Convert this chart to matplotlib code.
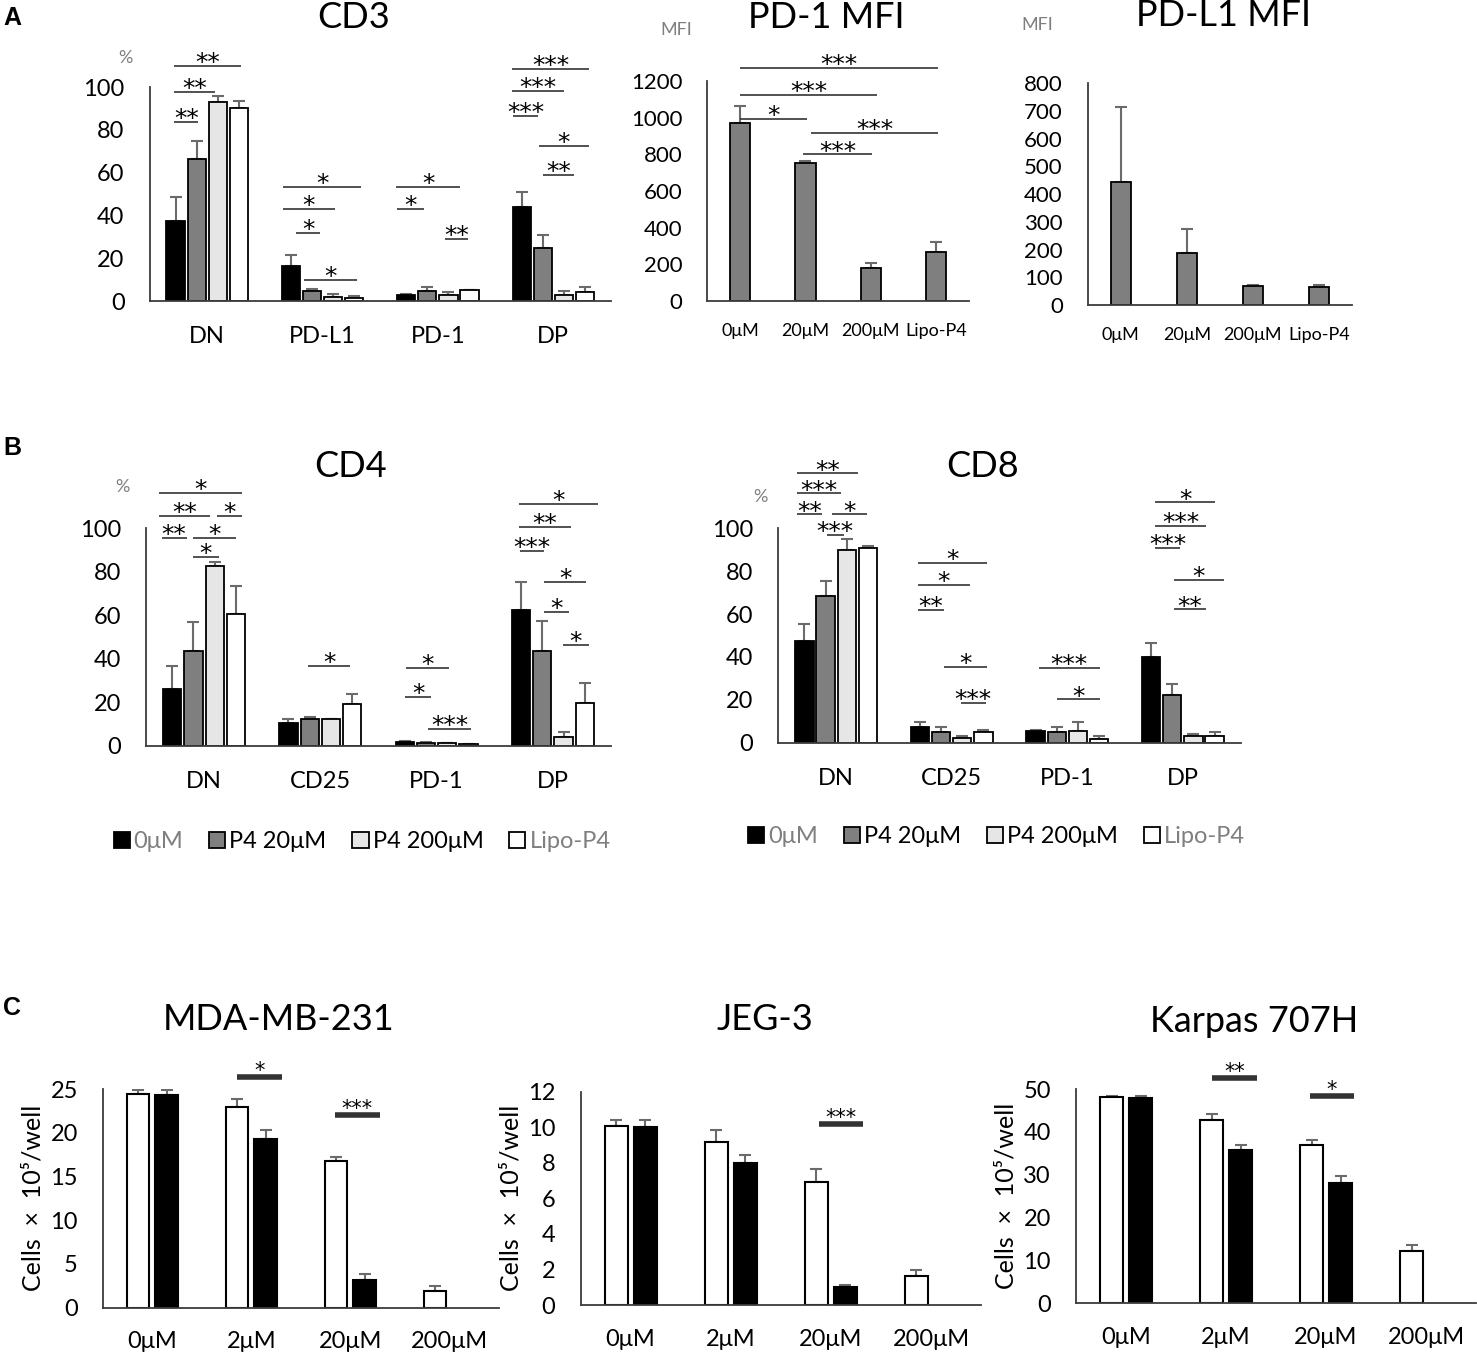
import numpy as np
import matplotlib.pyplot as plt
from matplotlib.patches import Patch

plt.rcParams['font.family'] = ['Lato', 'DejaVu Sans']

W, H = 1477, 1356

# ---------------- data ----------------
series_names = ['0μM', 'P4 20μM', 'P4 200μM', 'Lipo-P4']
legend_text_colors = ['#7f7f7f', 'black', 'black', '#7f7f7f']
bar_colors = ['black', '#7f7f7f', '#e6e6e6', 'white']

cd3_groups = ['DN', 'PD-L1', 'PD-1', 'DP']
cd3_0 = [37.5, 16.5, 3.0, 44.0]
cd3_20 = [66.5, 4.7, 4.7, 25.0]
cd3_200 = [93.0, 2.0, 3.0, 3.0]
cd3_lipo = [90.3, 1.5, 5.0, 4.0]
cd3_0_err = [11.0, 5.0, 0.5, 6.8]
cd3_20_err = [8.5, 0.9, 1.7, 6.0]
cd3_200_err = [3.0, 1.4, 1.0, 1.7]
cd3_lipo_err = [3.2, 1.0, 0.3, 2.4]
# (group, from bar, to bar, y, stars)
cd3_sig = [(0, -0.05, 3.08, 109.7, '**'), (0, -0.05, 1.86, 97.7, '**'), (0, -0.05, 1.08, 83.6, '**'),
           (1, -0.38, 3.34, 53.4, '*'), (1, -0.38, 2.07, 43.0, '*'), (1, 0.23, 1.4, 31.8, '*'),
           (1, 0.62, 3.12, 9.8, '*'),
           (2, -0.5, 2.56, 53.4, '*'), (2, -0.44, 0.83, 43.0, '*'), (2, 1.83, 2.94, 29.0, '**'),
           (3, -0.44, 3.17, 108.4, '***'), (3, -0.44, 2.0, 98.1, '***'), (3, -0.39, 0.78, 86.4, '***'),
           (3, 0.83, 3.17, 72.6, '*'), (3, 1.0, 2.5, 58.9, '**')]

mfi_groups = ['0μM', '20μM', '200μM', 'Lipo-P4']
pd1_mfi = [972, 751, 182, 266]
pd1_mfi_err = [92, 13, 23, 56]
pd1_sig = [(0, 3.02, 1273, '***'), (0, 2.09, 1122, '***'), (0, 1.02, 993, '*'),
           (1.08, 3.03, 915, '***'), (0.97, 2.01, 800, '***')]
pdl1_mfi = [445, 187, 70, 64]
pdl1_mfi_err = [271, 86, 2, 8]

cd4_groups = ['DN', 'CD25', 'PD-1', 'DP']
cd4_0 = [26.0, 10.4, 2.0, 62.5]
cd4_20 = [43.6, 12.3, 1.5, 43.6]
cd4_200 = [82.7, 12.4, 1.2, 4.3]
cd4_lipo = [60.5, 19.3, 1.0, 19.9]
cd4_0_err = [10.9, 2.0, 0.3, 13.0]
cd4_20_err = [13.2, 0.9, 0.2, 13.8]
cd4_200_err = [2.0, 0.2, 0.1, 2.3]
cd4_lipo_err = [13.1, 4.6, 0.1, 8.9]
cd4_sig = [(0, -0.63, 3.29, 116.1, '*'), (0, -0.63, 1.78, 105.6, '**'), (0, 2.09, 3.29, 105.6, '*'),
           (0, -0.5, 0.68, 95.4, '**'), (0, 0.99, 3.0, 95.4, '*'), (0, 0.97, 2.2, 87.0, '*'),
           (1, 0.92, 2.9, 36.9, '*'),
           (2, 0.05, 2.07, 35.7, '*'), (2, 0.01, 1.24, 22.4, '*'), (2, 1.1, 3.1, 7.7, '***'),
           (3, -0.09, 3.61, 111.2, '*'), (3, -0.09, 2.36, 100.5, '**'), (3, -0.05, 1.07, 89.7, '***'),
           (3, 1.1, 3.07, 75.5, '*'), (3, 1.1, 2.26, 61.7, '*'), (3, 1.97, 3.2, 46.4, '*')]

cd8_groups = ['DN', 'CD25', 'PD-1', 'DP']
cd8_0 = [47.6, 7.5, 5.6, 40.1]
cd8_20 = [68.6, 5.1, 5.1, 22.2]
cd8_200 = [89.9, 2.3, 5.4, 3.1]
cd8_lipo = [91.0, 4.8, 1.6, 3.3]
cd8_0_err = [7.6, 2.3, 0.4, 6.3]
cd8_20_err = [7.0, 2.4, 2.1, 5.0]
cd8_200_err = [5.0, 0.8, 4.1, 1.0]
cd8_lipo_err = [0.9, 1.1, 1.7, 1.5]
cd8_sig = [(0, -0.35, 2.54, 125.6, '**'), (0, -0.35, 1.71, 116.3, '***'), (0, -0.35, 0.83, 106.5, '**'),
           (0, 1.31, 2.94, 106.5, '*'), (0, 1.06, 1.86, 96.9, '***'),
           (1, -0.11, 3.15, 83.7, '*'), (1, -0.11, 2.35, 73.6, '*'), (1, -0.11, 1.13, 61.9, '**'),
           (1, 1.14, 3.15, 35.4, '*'), (1, 1.92, 3.11, 18.7, '***'),
           (2, 0.14, 3.03, 35.0, '***'), (2, 1.0, 3.03, 20.2, '*'),
           (3, 0.19, 3.03, 112.1, '*'), (3, 0.19, 2.61, 101.2, '***'), (3, 0.19, 1.37, 90.7, '***'),
           (3, 1.06, 3.46, 75.9, '*'), (3, 1.06, 2.59, 62.2, '**')]

dose_groups = ['0μM', '2μM', '20μM', '200μM']
mda_white = [24.4, 22.9, 16.8, 1.9]
mda_white_err = [0.5, 1.0, 0.4, 0.6]
mda_black = [24.3, 19.3, 3.2, np.nan]
mda_black_err = [0.6, 1.0, 0.6, np.nan]
mda_sig = [(1, -0.147, 0.306, 26.4, '*'), (2, -0.154, 0.297, 22.0, '***')]

jeg_white = [10.08, 9.15, 6.93, 1.65]
jeg_white_err = [0.32, 0.69, 0.70, 0.32]
jeg_black = [10.03, 8.0, 1.0, np.nan]
jeg_black_err = [0.37, 0.44, 0.12, np.nan]
jeg_sig = [(2, -0.12, 0.32, 10.2, '***')]

karpas_white = [48.1, 42.8, 36.8, 12.1]
karpas_white_err = [0.3, 1.4, 1.3, 1.4]
karpas_black = [47.8, 35.7, 28.0, np.nan]
karpas_black_err = [0.6, 1.1, 1.7, np.nan]
karpas_sig = [(1, -0.137, 0.31, 52.5, '**'), (2, -0.16, 0.28, 48.4, '*')]

# ---------------- helpers ----------------
fig = plt.figure(figsize=(W / 100, H / 100), dpi=100)

PITCH = 0.183
BAR_W = 0.158
ERR_C = '#6b6b6b'


def add_ax(l, r, t, b):
    return fig.add_axes([l / W, 1 - b / H, (r - l) / W, (b - t) / H])


def style(ax, ylim, yticks, labels, tick_fs=17, xfs=17, xpad=18):
    for s in ['top', 'right']:
        ax.spines[s].set_visible(False)
    for s in ['left', 'bottom']:
        ax.spines[s].set_color('#3c3c3c')
        ax.spines[s].set_linewidth(1.3)
    ax.set_xlim(-0.5, 3.5)
    ax.set_ylim(*ylim)
    ax.set_yticks(yticks)
    ax.set_xticks(range(len(labels)))
    ax.set_xticklabels(labels, fontsize=xfs)
    ax.tick_params(axis='y', length=0, pad=18, labelsize=tick_fs)
    ax.tick_params(axis='x', length=0, pad=xpad)


def star(ax, x0, x1, y, txt, lw=1.2, dy=-3, fs=18):
    ax.plot([x0, x1], [y, y], color='#333333', lw=lw, clip_on=False, solid_capstyle='butt')
    ax.annotate(txt, ((x0 + x1) / 2, y), xytext=(0, dy), textcoords='offset points',
                ha='center', va='baseline', fontsize=fs, family='DejaVu Sans',
                annotation_clip=False)


def group_chart(ax, means, errs, sig, labels):
    x = np.arange(4)
    for k in range(4):
        xs = x + (k - 1.5) * PITCH
        ax.errorbar(xs, means[k], yerr=[np.zeros(4), errs[k]], fmt='none', ecolor=ERR_C,
                    elinewidth=1.5, capsize=4, capthick=1.5, zorder=1)
        ax.bar(xs, means[k], BAR_W, color=bar_colors[k], edgecolor='black', lw=1.3, zorder=2)
    for g, b0, b1, y, txt in sig:
        star(ax, g + (b0 - 1.5) * PITCH, g + (b1 - 1.5) * PITCH, y, txt)
    style(ax, (0, 100), range(0, 101, 20), labels)


def mfi_chart(ax, vals, errs, ylim, yticks):
    x = np.arange(4)
    ax.errorbar(x, vals, yerr=[np.zeros(4), errs], fmt='none', ecolor=ERR_C,
                elinewidth=1.5, capsize=4, capthick=1.5, zorder=1)
    ax.bar(x, vals, 0.31, color='#7f7f7f', edgecolor='black', lw=1.3, zorder=2)
    style(ax, ylim, yticks, mfi_groups, tick_fs=16, xfs=13, xpad=16)


def dose_chart(ax, white, werr, black, berr, sig, ylim, yticks):
    x = np.arange(4)
    for off, v, e, c in [(-0.145, white, werr, 'white'), (0.145, black, berr, 'black')]:
        ax.errorbar(x + off, v, yerr=[np.zeros(4), e], fmt='none', ecolor=ERR_C,
                    elinewidth=1.5, capsize=4, capthick=1.5, zorder=1)
        ax.bar(x + off, v, 0.23, color=c, edgecolor='black', lw=1.5, zorder=2)
    for g, o0, o1, y, txt in sig:
        star(ax, g + o0, g + o1, y, txt, lw=4, dy=0, fs=15)
    style(ax, ylim, yticks, dose_groups, tick_fs=17, xfs=17, xpad=17)
    ax.set_ylabel('Cells  ×  10⁵/well', fontsize=18, labelpad=4)


# ---------------- panel A ----------------
ax = add_ax(149.5, 611, 87, 301)
group_chart(ax, [cd3_0, cd3_20, cd3_200, cd3_lipo],
            [cd3_0_err, cd3_20_err, cd3_200_err, cd3_lipo_err], cd3_sig, cd3_groups)
fig.text(354 / W, 1 - 18 / H, 'CD3', fontsize=26, ha='center', va='center')
fig.text(125.7 / W, 1 - 58 / H, '%', fontsize=13, color='#7f7f7f', ha='center', va='center')

ax = add_ax(707.3, 969, 81, 301)
mfi_chart(ax, pd1_mfi, pd1_mfi_err, (0, 1200), range(0, 1201, 200))
for x0, x1, y, txt in pd1_sig:
    star(ax, x0, x1, y, txt)
fig.text(826 / W, 1 - 18 / H, 'PD-1 MFI', fontsize=26, ha='center', va='center')
fig.text(676 / W, 1 - 30 / H, 'MFI', fontsize=13, color='#7f7f7f', ha='center', va='center')

ax = add_ax(1087.8, 1352, 83.3, 305)
mfi_chart(ax, pdl1_mfi, pdl1_mfi_err, (0, 800), range(0, 801, 100))
fig.text(1223.5 / W, 1 - 15 / H, 'PD-L1 MFI', fontsize=26, ha='center', va='center')
fig.text(1037 / W, 1 - 25 / H, 'MFI', fontsize=13, color='#7f7f7f', ha='center', va='center')

# ---------------- panel B ----------------
handles = [Patch(facecolor=c, edgecolor='black', lw=1.3) for c in bar_colors]

ax = add_ax(146, 611, 528.3, 746)
group_chart(ax, [cd4_0, cd4_20, cd4_200, cd4_lipo],
            [cd4_0_err, cd4_20_err, cd4_200_err, cd4_lipo_err], cd4_sig, cd4_groups)
fig.text(351 / W, 1 - 466.7 / H, 'CD4', fontsize=26, ha='center', va='center')
fig.text(122.4 / W, 1 - 487 / H, '%', fontsize=13, color='#7f7f7f', ha='center', va='center')
leg = fig.legend(handles, series_names, loc='center', bbox_to_anchor=(362 / W, 1 - 842 / H),
                 ncol=4, frameon=False, fontsize=17, handlelength=0.68, handleheight=0.68,
                 handletextpad=0.17, columnspacing=1.1)
for t, c in zip(leg.get_texts(), legend_text_colors):
    t.set_color(c)

ax = add_ax(778.4, 1240.6, 528.3, 742.7)
group_chart(ax, [cd8_0, cd8_20, cd8_200, cd8_lipo],
            [cd8_0_err, cd8_20_err, cd8_200_err, cd8_lipo_err], cd8_sig, cd8_groups)
fig.text(982.3 / W, 1 - 466.7 / H, 'CD8', fontsize=26, ha='center', va='center')
fig.text(760.4 / W, 1 - 496.7 / H, '%', fontsize=13, color='#7f7f7f', ha='center', va='center')
leg = fig.legend(handles, series_names, loc='center', bbox_to_anchor=(996.5 / W, 1 - 836.7 / H),
                 ncol=4, frameon=False, fontsize=17, handlelength=0.68, handleheight=0.68,
                 handletextpad=0.17, columnspacing=1.1)
for t, c in zip(leg.get_texts(), legend_text_colors):
    t.set_color(c)

# ---------------- panel C ----------------
ax = add_ax(102.9, 498.8, 1089, 1307.7)
dose_chart(ax, mda_white, mda_white_err, mda_black, mda_black_err, mda_sig, (0, 25), range(0, 26, 5))
fig.text(278.4 / W, 1 - 1020 / H, 'MDA-MB-231', fontsize=26, ha='center', va='center')

ax = add_ax(580.5, 981, 1091.7, 1305)
dose_chart(ax, jeg_white, jeg_white_err, jeg_black, jeg_black_err, jeg_sig, (0, 12), range(0, 13, 2))
fig.text(765 / W, 1 - 1020 / H, 'JEG-3', fontsize=26, ha='center', va='center')

ax = add_ax(1076, 1476, 1089, 1303)
dose_chart(ax, karpas_white, karpas_white_err, karpas_black, karpas_black_err, karpas_sig,
           (0, 50), range(0, 51, 10))
fig.text(1254.6 / W, 1 - 1021.7 / H, 'Karpas 707H', fontsize=26, ha='center', va='center')

# panel letters
for letter, y in [('A', 18), ('B', 448), ('C', 1008)]:
    fig.text(12 / W, 1 - y / H, letter, fontsize=18, fontweight='bold', family='Liberation Sans',
             ha='center', va='center')

fig.savefig('out.png', dpi=100)
